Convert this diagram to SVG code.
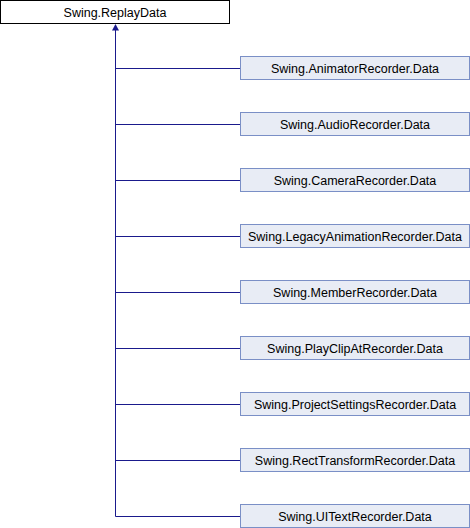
<svg xmlns="http://www.w3.org/2000/svg" width="470" height="528" viewBox="0 0 470 528">
<style>
.root rect{fill:#ffffff;stroke:#000000;stroke-width:1}
.child rect{fill:#e8ecf5;stroke:#7a8fc6;stroke-width:1}
text{font-family:"Liberation Sans",Arial,sans-serif;font-size:12.5px;fill:#000000;text-anchor:middle}
.edge{stroke:#1a1a8c;stroke-width:1;fill:none}
</style>
<rect width="470" height="528" fill="#ffffff"/>
<g id="connectors">
<path class="edge" d="M115.5,30 V516.5 M115.5,68.5 H240 M115.5,124.5 H240 M115.5,180.5 H240 M115.5,236.5 H240 M115.5,292.5 H240 M115.5,348.5 H240 M115.5,404.5 H240 M115.5,460.5 H240 M115.5,516.5 H240"/>
<polygon points="115.5,24 112,30.5 119,30.5" fill="#1a1a8c"/>
</g>
<g id="ReplayData" class="root"><rect x="0.5" y="0.5" width="229" height="23"/><text x="115" y="16.5">Swing.ReplayData</text></g>
<g id="AnimatorRecorder" class="child"><rect x="240.5" y="56.5" width="229" height="23"/><text x="355" y="72.5">Swing.AnimatorRecorder.Data</text></g>
<g id="AudioRecorder" class="child"><rect x="240.5" y="112.5" width="229" height="23"/><text x="355" y="128.5">Swing.AudioRecorder.Data</text></g>
<g id="CameraRecorder" class="child"><rect x="240.5" y="168.5" width="229" height="23"/><text x="355" y="184.5">Swing.CameraRecorder.Data</text></g>
<g id="LegacyAnimationRecorder" class="child"><rect x="240.5" y="224.5" width="229" height="23"/><text x="355" y="240.5">Swing.LegacyAnimationRecorder.Data</text></g>
<g id="MemberRecorder" class="child"><rect x="240.5" y="280.5" width="229" height="23"/><text x="355" y="296.5">Swing.MemberRecorder.Data</text></g>
<g id="PlayClipAtRecorder" class="child"><rect x="240.5" y="336.5" width="229" height="23"/><text x="355" y="352.5">Swing.PlayClipAtRecorder.Data</text></g>
<g id="ProjectSettingsRecorder" class="child"><rect x="240.5" y="392.5" width="229" height="23"/><text x="355" y="408.5">Swing.ProjectSettingsRecorder.Data</text></g>
<g id="RectTransformRecorder" class="child"><rect x="240.5" y="448.5" width="229" height="23"/><text x="355" y="464.5">Swing.RectTransformRecorder.Data</text></g>
<g id="UITextRecorder" class="child"><rect x="240.5" y="504.5" width="229" height="23"/><text x="355" y="520.5">Swing.UITextRecorder.Data</text></g>
</svg>
